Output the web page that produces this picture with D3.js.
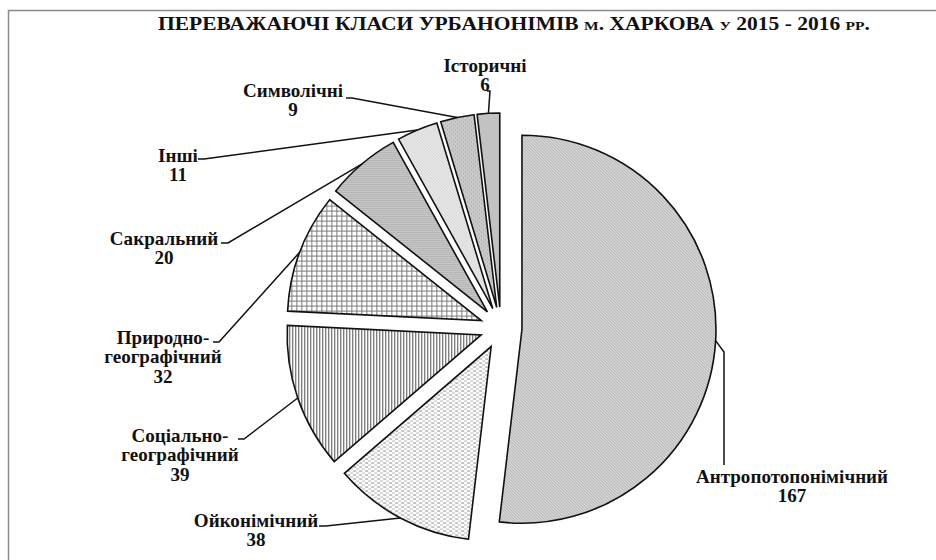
<!DOCTYPE html>
<html>
<head>
<meta charset="utf-8">
<script src="https://cdn.jsdelivr.net/npm/d3@7"></script>
<style>
body { margin: 0; background: #fff; }
text { font-family: "Liberation Serif", "Times New Roman", serif; font-weight: bold; fill: #111; }
</style>
</head>
<body>
<div id="container"></div>
<script>

var title = "ПЕРЕВАЖАЮЧІ КЛАСИ УРБАНОНІМІВ м. ХАРКОВА у 2015 - 2016 рр.";

var categories = ["Антропотопонімічний", "Ойконімічний", "Соціально-географічний",
		  "Природно-географічний", "Сакральний", "Інші", "Символічні", "Історичні"];
var values = [167, 38, 39, 32, 20, 11, 9, 6];

// label lines as they are broken in the picture
var labelLines = [
    ["Антропотопонімічний"],
    ["Ойконімічний"],
    ["Соціально-", "географічний"],
    ["Природно-", "географічний"],
    ["Сакральний"],
    ["Інші"],
    ["Символічні"],
    ["Історичні"]
];

var fills = ["p-antr", "p-oik", "p-soc", "p-pryr", "p-sakr", "p-inshi", "p-symv", "p-ist"];

var width = 936, height = 560;
var cx = 501, cy = 328, radius = 194, explode = 21;

// label anchor (centre x, first baseline) and where the leader leaves the label
var labelPos = [
    {x: 792, y: 483, lead: [[724, 465], [724, 352]]},
    {x: 256, y: 527, lead: [[319, 526], [326, 526]]},
    {x: 180, y: 442, lead: [[238, 439], [244, 439]]},
    {x: 163, y: 344, lead: [[213, 342], [219, 342]]},
    {x: 164, y: 245, lead: [[221, 243], [228, 243]]},
    {x: 178, y: 162, lead: [[198, 159], [204, 159]]},
    {x: 293, y: 97,  lead: [[346, 98], [352, 98]]},
    {x: 485, y: 72,  lead: [[487, 91], [490, 91]]}
];

var svg = d3.select("#container").append("svg")
    .attr("width", width)
    .attr("height", height);

var defs = svg.append("defs");

var pat = function(id, w, h, bg, draw){
    var p = defs.append("pattern")
	.attr("id", id)
	.attr("patternUnits", "userSpaceOnUse")
	.attr("width", w)
	.attr("height", h);
    p.append("rect").attr("width", w).attr("height", h).attr("fill", bg);
    draw(p);
    return p;
}

// fine diagonal hatch, light grey
pat("p-antr", 3, 3, "#d6d6d6", function(p){
    p.append("path").attr("d", "M0,0 L3,3 M-1,2 L1,4 M2,-1 L4,1")
	.attr("stroke", "#a8a8a8").attr("stroke-width", 0.8);
});
// short horizontal dashes
pat("p-oik", 6, 4, "#fff", function(p){
    p.append("rect").attr("x", 0).attr("y", 0).attr("width", 3).attr("height", 1).attr("fill", "#8c8c8c");
    p.append("rect").attr("x", 3).attr("y", 2).attr("width", 3).attr("height", 1).attr("fill", "#b4b4b4");
});
// vertical lines
pat("p-soc", 3, 3, "#fff", function(p){
    p.append("rect").attr("x", 0).attr("y", 0).attr("width", 1.2).attr("height", 3).attr("fill", "#6a6a6a");
});
// small grid
pat("p-pryr", 5, 5, "#fff", function(p){
    p.append("path").attr("d", "M0,0.5 H5 M0.5,0 V5")
	.attr("stroke", "#7a7a7a").attr("stroke-width", 1);
});
// fine dots
pat("p-sakr", 2, 2, "#dcdcdc", function(p){
    p.append("rect").attr("width", 1).attr("height", 1).attr("fill", "#8e8e8e");
    p.append("rect").attr("x", 1).attr("y", 1).attr("width", 1).attr("height", 1).attr("fill", "#b4b4b4");
});
// light diagonal hatch
pat("p-inshi", 3, 3, "#ececec", function(p){
    p.append("path").attr("d", "M0,0 L3,3 M-1,2 L1,4 M2,-1 L4,1")
	.attr("stroke", "#c4c4c4").attr("stroke-width", 0.8);
});
// textured medium grey
pat("p-symv", 4, 4, "#c8c8c8", function(p){
    p.append("rect").attr("width", 1).attr("height", 1).attr("fill", "#8e8e8e");
    p.append("rect").attr("x", 2).attr("y", 2).attr("width", 1).attr("height", 1).attr("fill", "#8e8e8e");
    p.append("rect").attr("x", 3).attr("y", 0).attr("width", 1).attr("height", 1).attr("fill", "#e8e8e8");
    p.append("rect").attr("x", 1).attr("y", 2).attr("width", 1).attr("height", 1).attr("fill", "#e8e8e8");
});
// flat grey
pat("p-ist", 2, 2, "#c2c2c2", function(p){});

// frame
svg.append("rect")
    .attr("x", 8.5).attr("y", 10.5)
    .attr("width", width).attr("height", height)
    .attr("fill", "none")
    .attr("stroke", "#8a8a8a")
    .attr("stroke-width", 1.5);

svg.append("text")
    .attr("x", 514)
    .attr("y", 30)
    .attr("text-anchor", "middle")
    .attr("textLength", 712)
    .attr("lengthAdjust", "spacingAndGlyphs")
    .style("font-size", "18px")
    .style("font-variant", "small-caps")
    .text(title);

var pie = d3.pie().sort(null).startAngle(0).endAngle(2 * Math.PI);
var arcs = pie(values);

var arc = d3.arc().innerRadius(0).outerRadius(radius);

var shift = function(d, r){
    var a = (d.startAngle + d.endAngle) / 2;
    return [Math.sin(a) * r, -Math.cos(a) * r];
}

var chart = svg.append("g").attr("transform", "translate(" + cx + "," + cy + ")");

chart.selectAll("path.slice")
    .data(arcs)
    .enter().append("path")
    .attr("class", "slice")
    .attr("transform", function(d){
	var s = shift(d, explode);
	return "translate(" + s[0] + "," + s[1] + ")";
    })
    .attr("d", arc)
    .attr("fill", function(d, i){ return "url(#" + fills[i] + ")"; })
    .attr("stroke", "#111")
    .attr("stroke-width", 1.6)
    .attr("stroke-linejoin", "miter");

// leader lines: from the slice edge to the label
arcs.forEach(function(d, i){
    var s = shift(d, explode);
    var e = shift(d, radius);
    var pts = labelPos[i].lead.map(function(p){ return [p[0] - cx, p[1] - cy]; });
    pts.push([s[0] + e[0], s[1] + e[1]]);
    chart.append("path")
	.attr("d", d3.line()(pts))
	.attr("fill", "none")
	.attr("stroke", "#111")
	.attr("stroke-width", 1.5);
});

// labels, a bit wider than the font draws them
categories.forEach(function(c, i){
    var lines = labelLines[i].concat([String(values[i])]);
    var t = svg.append("text")
	.attr("text-anchor", "middle")
	.attr("transform", "translate(" + labelPos[i].x + "," + labelPos[i].y + ") scale(1.06,1)")
	.style("font-size", "18px");
    lines.forEach(function(l, j){
	t.append("tspan")
	    .attr("x", 0)
	    .attr("y", j * 19.5)
	    .text(l);
    });
});

</script>
</body>
</html>
